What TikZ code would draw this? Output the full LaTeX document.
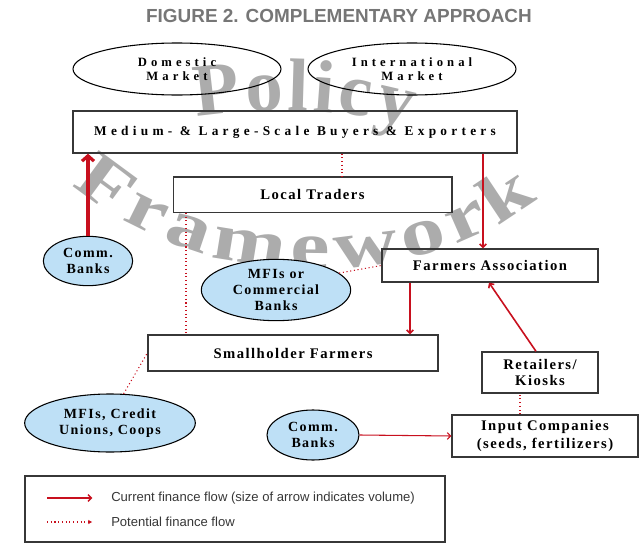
\documentclass[tikz,border=0pt]{standalone}
\usepackage{fontspec}
\setmainfont{Liberation Serif}
\setsansfont{Liberation Sans}
\newfontfamily\boxfont[LetterSpace=10]{Liberation Serif}
\newfontfamily\widefont[LetterSpace=32]{Liberation Serif}
\newfontfamily\stretchfont[FakeStretch=1.3]{Liberation Serif}
\usetikzlibrary{shapes.geometric,arrows.meta,decorations.text}
\definecolor{finred}{RGB}{200,16,30}
\definecolor{bankblue}{RGB}{190,224,246}
\definecolor{wmgray}{RGB}{172,172,172}
\definecolor{titlegray}{RGB}{118,118,118}
\definecolor{edgegray}{RGB}{55,55,55}
\newcommand{\boxtext}{\boxfont\bfseries\fontsize{11pt}{12pt}\selectfont}
\newcommand{\widetext}{\widefont\bfseries\fontsize{9.5pt}{10.5pt}\selectfont}

\begin{document}
\begin{tikzpicture}[x=0.75pt,y=0.75pt,yscale=-1,xscale=1,
        actor/.style={draw=edgegray, line width=1pt, rectangle, inner sep=0pt, align=center, font=\boxtext},
        market/.style={draw=black, line width=0.8pt, ellipse, inner sep=0pt, align=center, font=\widetext, minimum width=156pt, minimum height=39pt},
        bank/.style={draw=black, line width=0.8pt, ellipse, fill=bankblue, inner sep=0pt, align=center, font=\boxtext\fontsize{10.5pt}{12pt}\selectfont},
        flow/.style={draw=finred, line width=1.2pt, -{Straight Barb[length=2.5pt,width=5pt]}},
        bigflow/.style={draw=finred, line width=2.4pt, -{Straight Barb[length=4pt,width=9pt]}},
        potflow/.style={draw=finred, line width=0.8pt, dotted},
        legendtext/.style={inner sep=0pt, anchor=west, text=edgegray, font=\sffamily\fontsize{9.8pt}{11pt}\selectfont},
        watermark/.style={decorate, decoration={text along path, text align={fit to path}, text color=wmgray}}]
        \useasboundingbox (0,0) rectangle (640,546);
        \path[watermark, decoration={text={|\bfseries\fontsize{56pt}{56pt}\selectfont|Policy}}] (197,117) .. controls (260,107) and (340,107) .. (410,127);
        \path[watermark, decoration={text={|\stretchfont\bfseries\fontsize{51pt}{51pt}\selectfont|Framework}}] (72,184) .. controls (195,294) and (420,294) .. (538,198);
        \node[font=\sffamily\bfseries\fontsize{14.2pt}{16pt}\selectfont, text=titlegray] (title) at (339,16) {FIGURE 2. COMPLEMENTARY APPROACH};
        \node[market] (dom) at (177,69) {Domestic\\Market};
        \node[market] (intl) at (412,69) {International\\Market};
        \node[actor, font=\widetext\fontsize{10pt}{11pt}\selectfont, minimum width=333pt, minimum height=31.5pt] (medium) at (295,132) {Medium- \& Large-Scale Buyers \& Exporters};
        \node[actor, minimum width=209pt, minimum height=26.5pt] (local) at (312.5,194.5) {Local Traders};
        \node[bank, minimum width=67pt, minimum height=37pt] (comm1) at (88,261) {Comm.\\Banks};
        \node[actor, minimum width=162pt, minimum height=24.75pt] (farmers) at (490,265.5) {Farmers Association};
        \node[bank, minimum width=112pt, minimum height=46pt] (mfi1) at (276,290) {MFIs or\\Commercial\\Banks};
        \node[actor, minimum width=217.5pt, minimum height=27pt] (small) at (293,353) {Smallholder Farmers};
        \node[actor, minimum width=87pt, minimum height=30.75pt] (retail) at (540,372.5) {Retailers/\\Kiosks};
        \node[bank, minimum width=128pt, minimum height=43.5pt] (mfi2) at (110,423) {MFIs, Credit\\Unions, Coops};
        \node[bank, minimum width=69pt, minimum height=37.5pt] (comm2) at (313,435) {Comm.\\Banks};
        \node[actor, minimum width=139.5pt, minimum height=31.5pt, font=\boxtext\fontsize{11pt}{13.5pt}\selectfont] (input) at (545,436) {Input Companies\\(seeds, fertilizers)};
        \coordinate (xa) at (342,0);
        \coordinate (xb) at (483,0);
        \coordinate (xc) at (186,0);
        \coordinate (xd) at (410,0);
        \coordinate (xe) at (536,0);
        \coordinate (xf) at (489,0);
        \coordinate (xg) at (520,0);
        \draw[bigflow] (comm1.north) -- (comm1.north |- medium.south);
        \draw[potflow] (medium.south -| xa) -- (local.north -| xa);
        \draw[flow] (medium.south -| xb) -- (farmers.north -| xb);
        \draw[potflow] (local.south -| xc) -- (small.north -| xc);
        \draw[potflow] (mfi1.15) -- (farmers.west);
        \draw[flow] (farmers.south -| xd) -- (small.north -| xd);
        \draw[flow] (retail.north -| xe) -- (farmers.south -| xf);
        \draw[potflow] (input.north -| xg) -- (retail.south -| xg);
        \draw[flow, line width=0.8pt] (comm2.east) -- (input.west);
        \draw[potflow] (mfi2.65) -- (small.west);
        \draw[line width=0.8pt, draw=edgegray] (25,476) rectangle (445,542);
        \node[legendtext] (cur) at (111,498) {Current finance flow (size of arrow indicates volume)};
        \node[legendtext] (pot) at (111,522) {Potential finance flow};
        \coordinate (k1) at (47,498);
        \coordinate (k2) at (47,522);
        \draw[flow, line width=1pt] (k1) -- ([xshift=-14pt]cur.west);
        \draw[potflow, -{Latex[length=3pt,width=3.5pt]}] (k2) -- ([xshift=-14pt]pot.west);
\end{tikzpicture}
\end{document}
